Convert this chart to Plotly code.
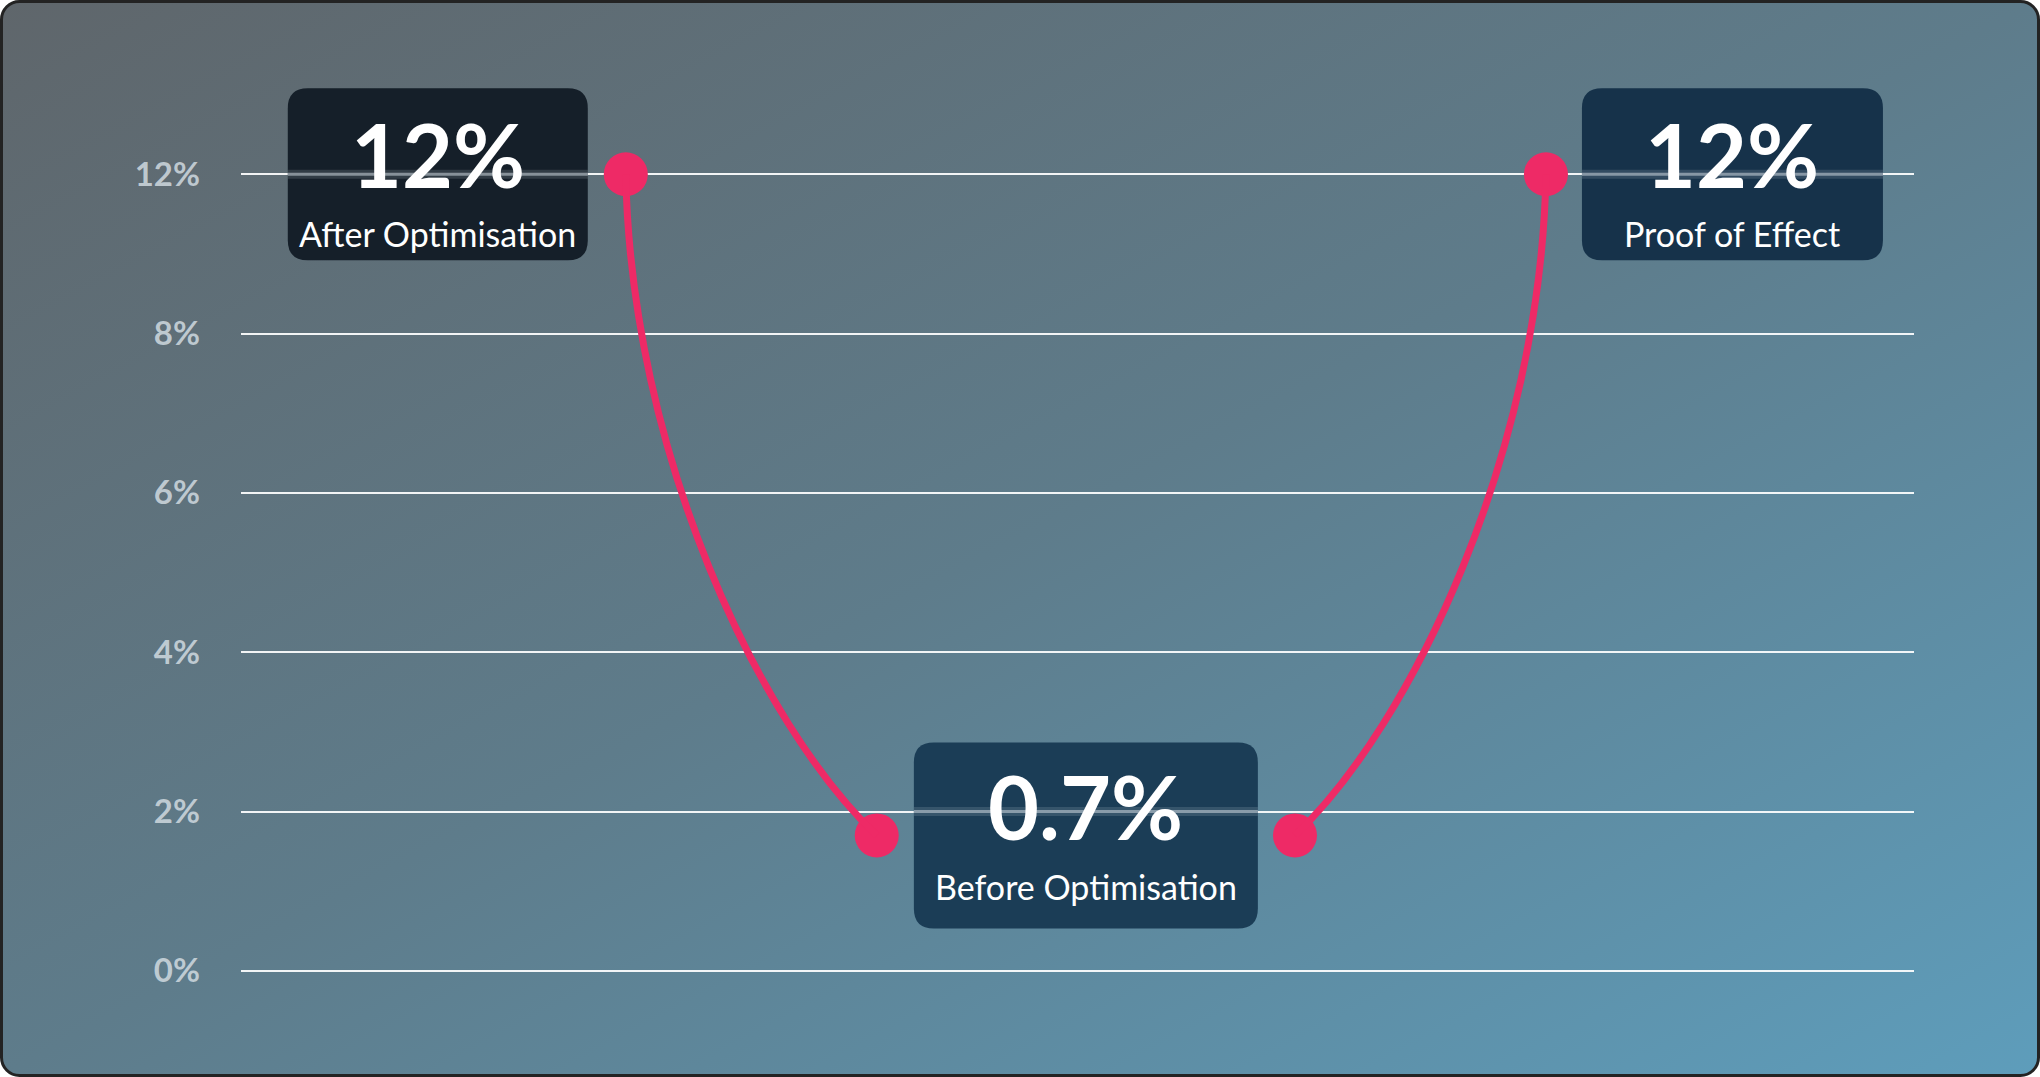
import base64
import plotly.graph_objects as go

# ---- data ----
x_points = [2.3, 3.8, 6.3, 7.8]
y_points = [10, 1.7, 1.7, 10]          # plotted positions on the axis
box_values = ["12%", "0.7%", "12%"]
box_labels = ["After Optimisation", "Before Optimisation", "Proof of Effect"]
tick_vals = [0, 2, 4, 6, 8, 10]
tick_text = ["0%", "2%", "4%", "6%", "8%", "12%"]

# ---- styling ----
W, H = 2040, 1077
PINK = "#ee2a66"
FONT = "Lato"
# per-box pixel geometry relative to its anchor point
box_styles = [
    dict(x0=-338, x1=-38, h=172, fill="#151f29", num_dy=20, lab_dy=-59),
    dict(x0=-172, x1=172, h=186, fill="#1b3d56", num_dy=29, lab_dy=-51),
    dict(x0=36, x1=337, h=172, fill="#16324a", num_dy=20, lab_dy=-59),
]


def rounded_rect(x0, x1, h, r=20):
    y0, y1 = -h / 2, h / 2
    return (f"M {x0+r},{y0} L {x1-r},{y0} Q {x1},{y0} {x1},{y0+r} "
            f"L {x1},{y1-r} Q {x1},{y1} {x1-r},{y1} L {x0+r},{y1} "
            f"Q {x0},{y1} {x0},{y1-r} L {x0},{y0+r} Q {x0},{y0} {x0+r},{y0} Z")


def drop_curve(top, bottom):
    # cubic bezier leaving the top point vertically, reaching the bottom at ~45deg
    (xa, ya), (xb, yb) = top, bottom
    dx, dy = xb - xa, yb - ya
    c1 = (xa + 0.02 * dx, ya + 0.42 * dy)
    c2 = (xa + 0.53 * dx, ya + 0.83 * dy)
    return f"M {xa},{ya} C {c1[0]},{c1[1]} {c2[0]},{c2[1]} {xb},{yb}"


# gradient card as background
svg = f"""<svg xmlns='http://www.w3.org/2000/svg' width='{W}' height='{H}' viewBox='0 0 {W} {H}' preserveAspectRatio='none'>
<defs><linearGradient id='g' x1='0' y1='0' x2='1' y2='1'>
<stop offset='0' stop-color='#5f666b'/><stop offset='0.5' stop-color='#5e7c8b'/><stop offset='1' stop-color='#5e9dbb'/>
</linearGradient></defs>
<rect width='{W}' height='{H}' fill='#ffffff'/>
<rect x='1.5' y='1.5' width='{W-3}' height='{H-3}' rx='18' ry='18' fill='url(#g)' stroke='#232323' stroke-width='3'/>
</svg>"""
bg_uri = "data:image/svg+xml;base64," + base64.b64encode(svg.encode()).decode()

fig = go.Figure()

fig.add_trace(go.Scatter(
    x=x_points, y=y_points, mode="markers",
    marker=dict(size=44, color=PINK), hoverinfo="skip", showlegend=False,
))

shapes = []
pts = list(zip(x_points, y_points))
shapes.append(dict(type="path", path=drop_curve(pts[0], pts[1]), xref="x", yref="y",
                   line=dict(color=PINK, width=7), layer="above"))
shapes.append(dict(type="path", path=drop_curve(pts[3], pts[2]), xref="x", yref="y",
                   line=dict(color=PINK, width=7), layer="above"))

anchors = [pts[0], ((pts[1][0] + pts[2][0]) / 2, pts[1][1]), pts[3]]
annotations = []
for (ax, ay), val, lab, st in zip(anchors, box_values, box_labels, box_styles):
    shapes.append(dict(type="path", xref="x", yref="y", xsizemode="pixel", ysizemode="pixel",
                       xanchor=ax, yanchor=ay, path=rounded_rect(st["x0"], st["x1"], st["h"]),
                       fillcolor=st["fill"], line=dict(width=0), layer="above"))
    grid_y = min(tick_vals, key=lambda v: abs(v - ay))
    for w, c in [(9, "rgba(200,212,220,0.16)"), (3, "rgba(205,215,222,0.55)")]:
        shapes.append(dict(type="line", xref="x", yref="y", xsizemode="pixel", xanchor=ax,
                           x0=st["x0"], x1=st["x1"], y0=grid_y, y1=grid_y,
                           line=dict(color=c, width=w), layer="above"))
    cx = (st["x0"] + st["x1"]) / 2
    annotations.append(dict(x=ax, y=ay, xref="x", yref="y", text=val, showarrow=False,
                            xshift=cx, yshift=st["num_dy"], xanchor="center", yanchor="middle",
                            font=dict(family=FONT, size=88, color="white", weight=700)))
    annotations.append(dict(x=ax, y=ay, xref="x", yref="y", text=lab, showarrow=False,
                            xshift=cx, yshift=st["lab_dy"], xanchor="center", yanchor="middle",
                            font=dict(family=FONT, size=34, color="white")))

fig.update_layout(
    width=W, height=H,
    margin=dict(l=0, r=0, t=0, b=0),
    paper_bgcolor="rgba(0,0,0,0)", plot_bgcolor="rgba(0,0,0,0)",
    images=[dict(source=bg_uri, xref="paper", yref="paper", x=0, y=1, sizex=1, sizey=1,
                 xanchor="left", yanchor="top", sizing="stretch", layer="below")],
    xaxis=dict(domain=[241 / W, 1914 / W], range=[0, 10], visible=False, fixedrange=True),
    yaxis=dict(domain=[0, 1], range=[-1.333, 12.188], tickvals=tick_vals, ticktext=tick_text,
               showgrid=True, gridcolor="rgba(255,255,255,0.92)", gridwidth=2,
               zeroline=False, showline=False, ticks="", ticklabelstandoff=40,
               tickfont=dict(family=FONT, size=33, color="rgba(208,218,224,0.85)", weight=700),
               fixedrange=True),
    shapes=shapes,
    annotations=annotations,
    showlegend=False,
)

fig.write_html("out.html", config={"displayModeBar": False},
               post_script="document.body.style.margin='0';")
